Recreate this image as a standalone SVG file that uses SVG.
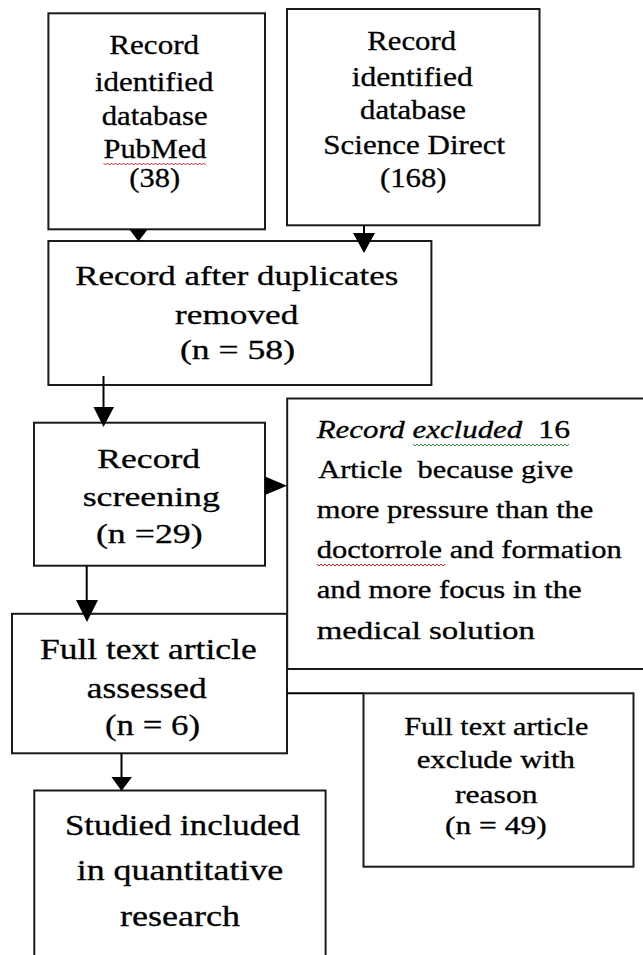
<svg xmlns="http://www.w3.org/2000/svg" width="643" height="955" viewBox="0 0 643 955" font-family="'Liberation Serif', 'Times New Roman', Times, serif">
<style>
text{font-family:'Liberation Serif','Times New Roman',Times,serif}
.t{fill:#000;stroke:#000;stroke-width:0.3;text-anchor:middle}
.l{fill:#000;stroke:#000;stroke-width:0.3;text-anchor:start;font-size:25px}
.box{fill:#fff;stroke:#1a1a1a;stroke-width:2}
.f28{font-size:28px}.f25{font-size:25px}.f29{font-size:29px}.f30{font-size:30px}
.ln{stroke:#000;stroke-width:2;fill:none}
.ah{fill:#000;stroke:none}
.sq{fill:none;stroke-width:1}
</style>
<rect width="643" height="955" fill="#fff"/>
<g id="node-pubmed">
<rect class="box" x="48.4" y="13.3" width="216.6" height="216"/>
<text class="t f28" x="154.2" y="54" textLength="89.7" lengthAdjust="spacingAndGlyphs">Record</text>
<text class="t f28" x="154.2" y="91" textLength="118.3" lengthAdjust="spacingAndGlyphs">identified</text>
<text class="t f28" x="154.7" y="125" textLength="106" lengthAdjust="spacingAndGlyphs">database</text>
<text class="t f28" x="155" y="158.3" textLength="103" lengthAdjust="spacingAndGlyphs">PubMed</text>
<text class="t f28" x="154.7" y="187" textLength="50.7" lengthAdjust="spacingAndGlyphs">(38)</text>
<polyline class="sq" stroke="#e02020" points="103.5,163 105.5,165 107.5,163 109.5,165 111.5,163 113.5,165 115.5,163 117.5,165 119.5,163 121.5,165 123.5,163 125.5,165 127.5,163 129.5,165 131.5,163 133.5,165 135.5,163 137.5,165 139.5,163 141.5,165 143.5,163 145.5,165 147.5,163 149.5,165 151.5,163 153.5,165 155.5,163 157.5,165 159.5,163 161.5,165 163.5,163 165.5,165 167.5,163 169.5,165 171.5,163 173.5,165 175.5,163 177.5,165 179.5,163 181.5,165 183.5,163 185.5,165 187.5,163 189.5,165 191.5,163 193.5,165 195.5,163 197.5,165 199.5,163 201.5,165 203.5,163 205.5,165"/>
</g>
<g id="node-sciencedirect">
<rect class="box" x="287" y="9" width="252.5" height="216.3"/>
<text class="t f28" x="411.7" y="50" textLength="88.7" lengthAdjust="spacingAndGlyphs">Record</text>
<text class="t f28" x="412.2" y="86" textLength="121" lengthAdjust="spacingAndGlyphs">identified</text>
<text class="t f28" x="413" y="119.3" textLength="106" lengthAdjust="spacingAndGlyphs">database</text>
<text class="t f28" x="414.2" y="154" textLength="181.7" lengthAdjust="spacingAndGlyphs">Science Direct</text>
<text class="t f28" x="413.3" y="187" textLength="66.7" lengthAdjust="spacingAndGlyphs">(168)</text>
</g>
<g id="node-duplicates">
<rect class="box" x="48.4" y="241" width="383" height="144"/>
<text class="t f28" x="236.7" y="285" textLength="323" lengthAdjust="spacingAndGlyphs">Record after duplicates</text>
<text class="t f28" x="236.7" y="324" textLength="123.3" lengthAdjust="spacingAndGlyphs">removed</text>
<text class="t f28" x="237.5" y="359" textLength="115" lengthAdjust="spacingAndGlyphs">(n = 58)</text>
</g>
<g id="node-screening">
<rect class="box" x="34" y="422.7" width="231" height="143"/>
<text class="t f28" x="148.7" y="467.7" textLength="102.7" lengthAdjust="spacingAndGlyphs">Record</text>
<text class="t f28" x="151.3" y="506" textLength="137.3" lengthAdjust="spacingAndGlyphs">screening</text>
<text class="t f28" x="149.3" y="543.3" textLength="106.7" lengthAdjust="spacingAndGlyphs">(n =29)</text>
</g>
<g id="node-excluded">
<rect class="box" x="287.2" y="398.5" width="370" height="270.5"/>
<text class="l" x="316.7" y="438.3" font-style="italic" textLength="205.6" lengthAdjust="spacingAndGlyphs">Record excluded</text>
<text class="l" x="538.3" y="438.3" textLength="31.7" lengthAdjust="spacingAndGlyphs">16</text>
<text class="l" x="318.3" y="478.3" xml:space="preserve" textLength="255" lengthAdjust="spacingAndGlyphs">Article  because give</text>
<text class="l" x="316.7" y="518.3" textLength="276.7" lengthAdjust="spacingAndGlyphs">more pressure than the</text>
<text class="l" x="316.7" y="558.3" textLength="305" lengthAdjust="spacingAndGlyphs">doctorrole and formation</text>
<text class="l" x="316.7" y="598.3" textLength="265" lengthAdjust="spacingAndGlyphs">and more focus in the</text>
<text class="l" x="316.7" y="639.3" textLength="218.3" lengthAdjust="spacingAndGlyphs">medical solution</text>
<polyline class="sq" stroke="#2a9a3a" points="413,444 415,446 417,444 419,446 421,444 423,446 425,444 427,446 429,444 431,446 433,444 435,446 437,444 439,446 441,444 443,446 445,444 447,446 449,444 451,446 453,444 455,446 457,444 459,446 461,444 463,446 465,444 467,446 469,444 471,446 473,444 475,446 477,444 479,446 481,444 483,446 485,444 487,446 489,444 491,446 493,444 495,446 497,444 499,446 501,444 503,446 505,444 507,446 509,444 511,446 513,444 515,446 517,444 519,446 521,444 523,446 525,444 527,446 529,444 531,446 533,444 535,446 537,444 539,446 541,444 543,446 545,444 547,446 549,444 551,446 553,444 555,446 557,444 559,446 561,444 563,446 565,444 567,446 569,444"/>
<polyline class="sq" stroke="#e02020" points="317,564 319,566 321,564 323,566 325,564 327,566 329,564 331,566 333,564 335,566 337,564 339,566 341,564 343,566 345,564 347,566 349,564 351,566 353,564 355,566 357,564 359,566 361,564 363,566 365,564 367,566 369,564 371,566 373,564 375,566 377,564 379,566 381,564 383,566 385,564 387,566 389,564 391,566 393,564 395,566 397,564 399,566 401,564 403,566 405,564 407,566 409,564 411,566 413,564 415,566 417,564 419,566 421,564 423,566 425,564 427,566 429,564 431,566 433,564 435,566 437,564 439,566 441,564 443,566 445,564"/>
</g>
<g id="node-assessed">
<rect class="box" x="12" y="613.8" width="275" height="139.5"/>
<text class="t f29" x="148.3" y="659.3" textLength="216.7" lengthAdjust="spacingAndGlyphs">Full text article</text>
<text class="t f29" x="146.7" y="698.3" textLength="120" lengthAdjust="spacingAndGlyphs">assessed</text>
<text class="t f29" x="152.5" y="735" textLength="95" lengthAdjust="spacingAndGlyphs">(n = 6)</text>
</g>
<g id="node-fulltext-excluded">
<rect class="box" x="363.5" y="693.3" width="270" height="173.4"/>
<text class="t f25" x="496.3" y="735" textLength="184" lengthAdjust="spacingAndGlyphs">Full text article</text>
<text class="t f25" x="495.8" y="768.3" textLength="158.3" lengthAdjust="spacingAndGlyphs">exclude with</text>
<text class="t f25" x="496.3" y="803.3" textLength="82.7" lengthAdjust="spacingAndGlyphs">reason</text>
<text class="t f25" x="495.8" y="834.3" textLength="101.7" lengthAdjust="spacingAndGlyphs">(n = 49)</text>
</g>
<g id="node-included">
<rect class="box" x="34.3" y="790.5" width="291.3" height="200"/>
<text class="t f30" x="182.5" y="835" textLength="235" lengthAdjust="spacingAndGlyphs">Studied included</text>
<text class="t f30" x="180" y="880" textLength="206.7" lengthAdjust="spacingAndGlyphs">in quantitative</text>
<text class="t f30" x="180" y="925.7" textLength="120" lengthAdjust="spacingAndGlyphs">research</text>
</g>
<g id="connectors">
<polygon class="ah" points="129.5,229.5 147.5,229.5 138.5,241.5"/>
<line class="ln" x1="364" y1="225" x2="364" y2="234"/>
<polygon class="ah" points="353,233 375,233 364,253"/>
<line class="ln" x1="103.5" y1="376" x2="103.5" y2="408"/>
<polygon class="ah" points="93.5,407 114,407 103.5,427"/>
<polygon class="ah" points="265,476.5 265,495 287,485.7"/>
<line class="ln" x1="86.7" y1="566" x2="86.7" y2="601"/>
<polygon class="ah" points="76,600 98,600 87,622"/>
<line class="ln" x1="121.5" y1="753" x2="121.5" y2="778"/>
<polygon class="ah" points="111.5,777 132,777 121.5,791"/>
<line class="ln" x1="287" y1="693.3" x2="363.5" y2="693.3"/>
</g>
</svg>
